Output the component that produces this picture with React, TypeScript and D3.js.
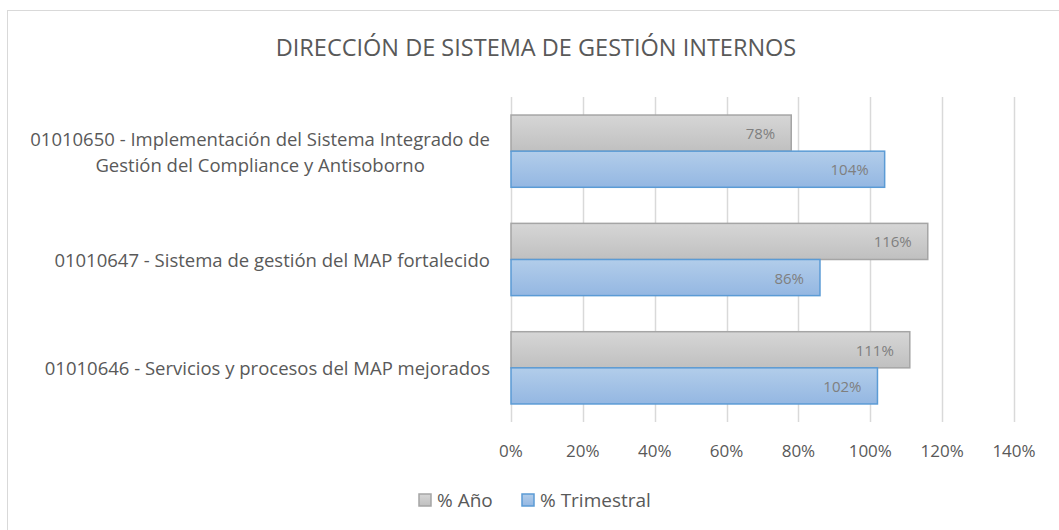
import { useEffect, useRef } from "react";
import * as d3 from "d3";

const categories = [
  "01010650 - Implementación del Sistema Integrado de|Gestión del Compliance y Antisoborno",
  "01010647 - Sistema de gestión del MAP fortalecido",
  "01010646 - Servicios y procesos del MAP mejorados",
];
const seriesNames = ["% Año", "% Trimestral"];
const anoValues = [0.78, 1.16, 1.11];
const trimValues = [1.04, 0.86, 1.02];
const xTicks = [0, 0.2, 0.4, 0.6, 0.8, 1.0, 1.2, 1.4];

const W = 1059;
const H = 530;
const MARGIN = { top: 97, right: 45, bottom: 108, left: 511 };
const FONT = "'Open Sans', 'Noto Sans', sans-serif";
const COLOR_TEXT = "#595959";
const COLOR_GRID = "#d9d9d9";

export default function App() {
  const svgRef = useRef<SVGSVGElement>(null);

  useEffect(() => {
    const svg = d3.select(svgRef.current);
    svg.selectAll("*").remove();

    const plotW = W - MARGIN.left - MARGIN.right;
    const plotH = H - MARGIN.top - MARGIN.bottom;

    const defs = svg.append("defs");
    const grads = [
      { id: "gGray", top: "#d6d6d6", bottom: "#c0c0c0" },
      { id: "gBlue", top: "#b2cdea", bottom: "#94b7e2" },
    ];
    grads.forEach((gd) => {
      const lg = defs
        .append("linearGradient")
        .attr("id", gd.id)
        .attr("x1", 0)
        .attr("y1", 0)
        .attr("x2", 0)
        .attr("y2", 1);
      lg.append("stop").attr("offset", "0%").attr("stop-color", gd.top);
      lg.append("stop").attr("offset", "100%").attr("stop-color", gd.bottom);
    });

    // Chart border
    svg
      .append("rect")
      .attr("x", 7.5)
      .attr("y", 10.5)
      .attr("width", W - 7)
      .attr("height", H - 10)
      .attr("fill", "#fff")
      .attr("stroke", "#d9d9d9");

    // Title
    svg
      .append("text")
      .attr("x", 536)
      .attr("y", 56)
      .attr("text-anchor", "middle")
      .attr("font-family", FONT)
      .attr("font-size", "23.5px")
      .attr("fill", COLOR_TEXT)
      .text("DIRECCIÓN DE SISTEMA DE GESTIÓN INTERNOS");

    const g = svg
      .append("g")
      .attr("transform", `translate(${MARGIN.left},${MARGIN.top})`);

    const x = d3.scaleLinear().domain([0, 1.4]).range([0, plotW]);
    const y = d3
      .scaleBand<number>()
      .domain(d3.range(categories.length))
      .range([0, plotH])
      .paddingInner(0.333)
      .paddingOuter(0.1665);

    // Gridlines
    xTicks.forEach((t) => {
      g.append("line")
        .attr("x1", Math.round(x(t)) + 0.5)
        .attr("x2", Math.round(x(t)) + 0.5)
        .attr("y1", 0)
        .attr("y2", plotH)
        .attr("stroke", COLOR_GRID)
        .attr("stroke-width", 1.5);
    });

    // Tick labels
    xTicks.forEach((t) => {
      g.append("text")
        .attr("x", x(t))
        .attr("y", plotH + 35)
        .attr("text-anchor", "middle")
        .attr("font-family", FONT)
        .attr("font-size", "17px")
        .attr("fill", COLOR_TEXT)
        .text(d3.format(".0%")(t));
    });

    const barH = y.bandwidth() / 2;
    const series = [
      { values: anoValues, fill: "url(#gGray)", stroke: "#a5a5a5" },
      { values: trimValues, fill: "url(#gBlue)", stroke: "#5b9bd5" },
    ];

    categories.forEach((cat, i) => {
      const y0 = y(i) ?? 0;
      series.forEach((s, j) => {
        const v = s.values[i];
        const by = y0 + j * barH;
        g.append("rect")
          .attr("x", x(0))
          .attr("y", by)
          .attr("width", x(v) - x(0))
          .attr("height", barH)
          .attr("fill", s.fill)
          .attr("stroke", s.stroke)
          .attr("stroke-width", 1.5);
        g.append("text")
          .attr("x", x(v) - 16)
          .attr("y", by + barH / 2)
          .attr("text-anchor", "end")
          .attr("dominant-baseline", "central")
          .attr("font-family", FONT)
          .attr("font-size", "15px")
          .attr("fill", "#7f7f7f")
          .text(d3.format(".0%")(v));
      });

      // Category label (multi-line blocks are centre-aligned)
      const lines = cat.split("|");
      const cy = y0 + y.bandwidth() / 2;
      const lh = 26;
      const texts = lines.map((ln, k) =>
        g
          .append("text")
          .attr("x", -21)
          .attr("y", cy + (k - (lines.length - 1) / 2) * lh)
          .attr("text-anchor", "end")
          .attr("dominant-baseline", "central")
          .attr("font-family", FONT)
          .attr("font-size", "18.5px")
          .attr("fill", COLOR_TEXT)
          .text(ln),
      );
      if (texts.length > 1) {
        const widths = texts.map((t) => (t.node() as SVGTextElement).getComputedTextLength());
        const maxW = Math.max(...widths);
        texts.forEach((t) => t.attr("text-anchor", "middle").attr("x", -21 - maxW / 2));
      }
    });

    // Legend
    const legend = svg.append("g").attr("transform", "translate(419,500)");
    const legendItems = [
      { name: seriesNames[0], fill: "url(#gGray)", stroke: "#a5a5a5", dx: 0 },
      { name: seriesNames[1], fill: "url(#gBlue)", stroke: "#5b9bd5", dx: 103 },
    ];
    legendItems.forEach((it) => {
      legend
        .append("rect")
        .attr("x", it.dx)
        .attr("y", -6)
        .attr("width", 12)
        .attr("height", 12)
        .attr("fill", it.fill)
        .attr("stroke", it.stroke)
        .attr("stroke-width", 1.5);
      legend
        .append("text")
        .attr("x", it.dx + 18)
        .attr("y", 0)
        .attr("dominant-baseline", "central")
        .attr("font-family", FONT)
        .attr("font-size", "19px")
        .attr("fill", COLOR_TEXT)
        .text(it.name);
    });
  }, []);

  return (
    <svg
      ref={svgRef}
      width={W}
      height={H}
      style={{ position: "absolute", left: 0, top: 0 }}
    />
  );
}
